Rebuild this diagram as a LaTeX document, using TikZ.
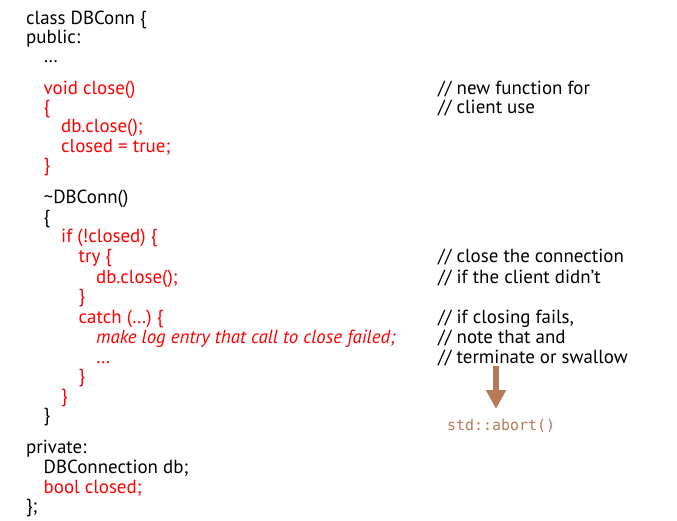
\documentclass[tikz,border=0pt]{standalone}
\usepackage{fontspec}
\setmainfont{PT Sans}
\newfontfamily\codemono{DejaVu Sans Mono}
\usetikzlibrary{arrows.meta}
\definecolor{abortbrown}{RGB}{184,122,86}
\tikzset{
    code/.style={anchor=base west, inner sep=0pt, font=\fontsize{19}{20}\selectfont},
    plain/.style={code, text=black},
    changed/.style={code, text=red},
    changedit/.style={changed, font=\fontsize{19}{20}\selectfont\itshape},
    remark/.style={code, text=black},
    callout/.style={anchor=base west, inner sep=0pt, text=abortbrown, font=\fontsize{15}{18}\selectfont\codemono},
    bigarrow/.style={draw=abortbrown, line width=6bp, -{Triangle[width=19bp,length=19bp]}}
}
\newcommand{\codeLine}[5] {
	\node[#4] (#3) at (26+17.5*#1,#2) {#5};
}
\newcommand{\remarkLine}[3] {
	\node[remark] (#2) at (438,#1) {#3};
}
\begin{document}
\begin{tikzpicture}[x=1bp,y=-1bp]
		\useasboundingbox (0,0) rectangle (677,521);

		% Class head
		\codeLine{0}{25}{cls}{plain}{class DBConn \{}
		\codeLine{0}{44}{pub}{plain}{public:}
		\codeLine{1}{63}{dotsA}{plain}{…}

		% close()
		\codeLine{1}{95}{closefn}{changed}{void close()}
		\codeLine{1}{114}{closeopen}{changed}{\{}
		\codeLine{2}{133}{closecall}{changed}{db.close();}
		\codeLine{2}{153}{closeflag}{changed}{closed = true;}
		\codeLine{1}{172}{closeshut}{changed}{\}}

		% Destructor
		\codeLine{1}{204}{dtor}{plain}{\textasciitilde DBConn()}
		\codeLine{1}{224}{dtoropen}{plain}{\{}
		\codeLine{2}{243}{ifline}{changed}{if (!closed) \{}
		\codeLine{3}{263}{tryline}{changed}{try \{}
		\codeLine{4}{283}{trycall}{changed}{db.close();}
		\codeLine{3}{302}{tryshut}{changed}{\}}
		\codeLine{3}{323}{catchline}{changed}{catch (…) \{}
		\codeLine{4}{343}{logline}{changedit}{make log entry that call to close failed;}
		\codeLine{4}{363}{dotsB}{changed}{…}
		\codeLine{3}{382}{catchshut}{changed}{\}}
		\codeLine{2}{402}{ifshut}{changed}{\}}
		\codeLine{1}{421}{dtorshut}{plain}{\}}

		% Members
		\codeLine{0}{453}{priv}{plain}{private:}
		\codeLine{1}{473}{dbmember}{plain}{DBConnection db;}
		\codeLine{1}{493}{flagmember}{changed}{bool closed;}
		\codeLine{0}{512}{clsshut}{plain}{\};}

		% Comments
		\remarkLine{95}{remA}{// new function for}
		\remarkLine{114}{remB}{// client use}
		\remarkLine{263}{remC}{// close the connection}
		\remarkLine{283}{remD}{// if the client didn't}
		\remarkLine{323}{remE}{// if closing fails,}
		\remarkLine{343}{remF}{// note that and}
		\remarkLine{363}{remG}{// terminate or swallow}

		% Abort
		\node[callout] (abort) at (447,430) {std::abort()};
		\coordinate (arrowtop) at (496,366);
		\coordinate (arrowtip) at (496,409);
		\draw[bigarrow] (arrowtop) -- (arrowtip);

	\end{tikzpicture}
\end{document}
